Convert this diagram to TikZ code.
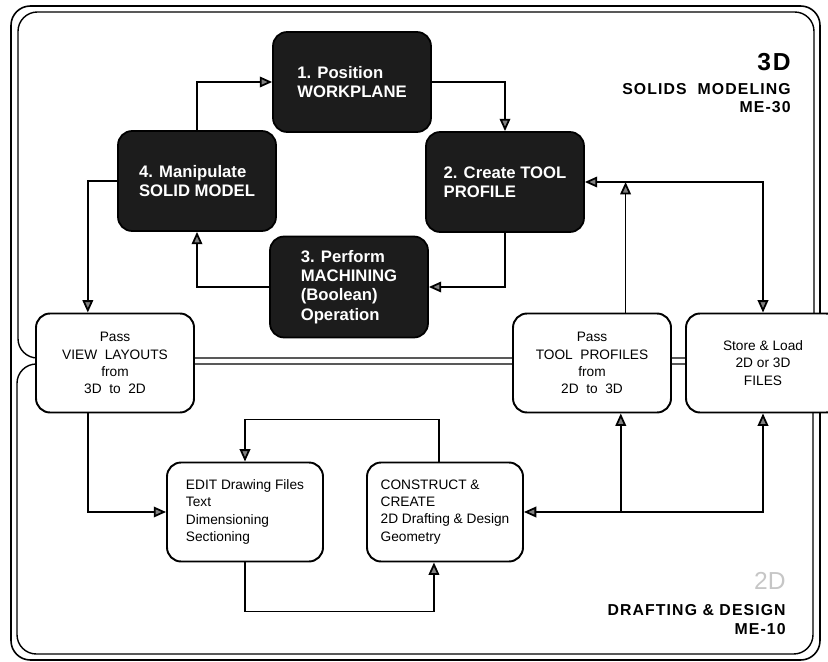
\documentclass[tikz,border=0pt]{standalone}
\usepackage{fontspec}
\setmainfont{Liberation Sans}
\newfontfamily\spacedfont[LetterSpace=7]{Liberation Sans}
\definecolor{boxdark}{HTML}{1C1C1C}
\usetikzlibrary{arrows.meta,calc}

\begin{document}
\begin{tikzpicture}[x=0.02cm, y=-0.02cm,
  step3d/.style={draw=black, fill=boxdark, rounded corners=8pt, line width=1pt,
              minimum width=3.16cm, minimum height=2cm,
              align=left, font=\fontsize{9.5}{11}\selectfont\bfseries\color{white}},
  pass/.style={draw=black, fill=white, rounded corners=8pt, line width=1.1pt,
              minimum width=3.16cm, minimum height=1.98cm,
              align=center, font=\fontsize{7.8}{9.8}\selectfont},
  task/.style={pass, minimum width=3.12cm, align=left},
  rel/.style={draw=black, line width=1pt, -{Triangle[length=7pt,width=6pt,fill=gray]}},
  rel2/.style={rel, {Triangle[length=7pt,width=6pt,fill=gray]}-{Triangle[length=7pt,width=6pt,fill=gray]}},
  frame/.style={draw=black, line width=0.8pt, rounded corners=11pt},
  title/.style={anchor=east, inner sep=0pt, font=\spacedfont\fontsize{9}{10}\selectfont\bfseries}
]
  \useasboundingbox (0,0) rectangle (828,662);

  \draw[frame, line width=0.9pt] (11,6) rectangle (820,660);
  \draw[frame] (18,12) rectangle (814,358);
  \draw[frame] (17,364) rectangle (813,654);

  \node[step3d] (pos)   at (352,82)  {1. Position\\WORKPLANE};
  \node[step3d] (prof)  at (505,182) {2. Create TOOL\\PROFILE};
  \node[step3d, minimum height=2.02cm] (mach) at (349,287) {3. Perform\\MACHINING\\(Boolean)\\Operation};
  \node[step3d] (manip) at (197,181) {4. Manipulate\\SOLID MODEL};

  \node[pass] (view)  at (115,363) {Pass\\VIEW\ \ LAYOUTS\\from\\3D\ \ to\ \ 2D};
  \node[pass] (tool)  at (592,363) {Pass\\TOOL\ \ PROFILES\\from\\2D\ \ to\ \ 3D};
  \node[pass, minimum width=3.08cm] (store) at (763,363) {Store \& Load\\2D or 3D\\FILES};
  \node[task] (edit)  at (245,512) {EDIT Drawing Files\\Text\\Dimensioning\\Sectioning};
  \node[task] (cons)  at (445,512) {CONSTRUCT \&\\CREATE\\2D Drafting \& Design\\Geometry};

  \node[anchor=east, inner sep=0pt, font=\spacedfont\fontsize{14}{16}\selectfont\bfseries] (t3d) at (791,62) {3D};
  \node[title] (solids) at (791,89)  {SOLIDS\ \ MODELING};
  \node[title] (me30)   at (791,107) {ME-30};
  \node[anchor=east, inner sep=0pt, font=\fontsize{14}{16}\selectfont, text=gray!45] (t2d) at (786,581) {2D};
  \node[title] (draft)  at (786,610) {DRAFTING \& DESIGN};
  \node[title] (me10)   at (786,629) {ME-10};

  \coordinate (tooldown) at ($(tool.south west)!0.68!(tool.south east)$);
  \coordinate (toolup)   at ($(tool.north west)!0.71!(tool.north east)$);

  \draw[rel] (manip.north) |- (pos.west);
  \draw[rel] (pos.east) -| (prof.north);
  \draw[rel] (prof.south) |- (mach.east);
  \draw[rel] (mach.west) -| (manip.south);
  \draw[rel] (manip.west) -| ($(view.north west)!0.33!(view.north east)$);
  \draw[rel] ($(view.south west)!0.33!(view.south east)$) |- (edit.west);
  \draw[rel] (edit.south) -- ++(0,49) -| ($(cons.south west)!0.43!(cons.south east)$);
  \draw[rel] ($(cons.north west)!0.46!(cons.north east)$) -- ++(0,-42) -| (edit.north);
  \draw[rel2] (store.south) |- (cons.east);
  \draw[rel] (cons.east -| tooldown) -- (tooldown);
  \draw[rel2] (prof.east) -| (store.north);
  \draw[rel] (toolup) -- (toolup |- prof.east);

\end{tikzpicture}
\end{document}
